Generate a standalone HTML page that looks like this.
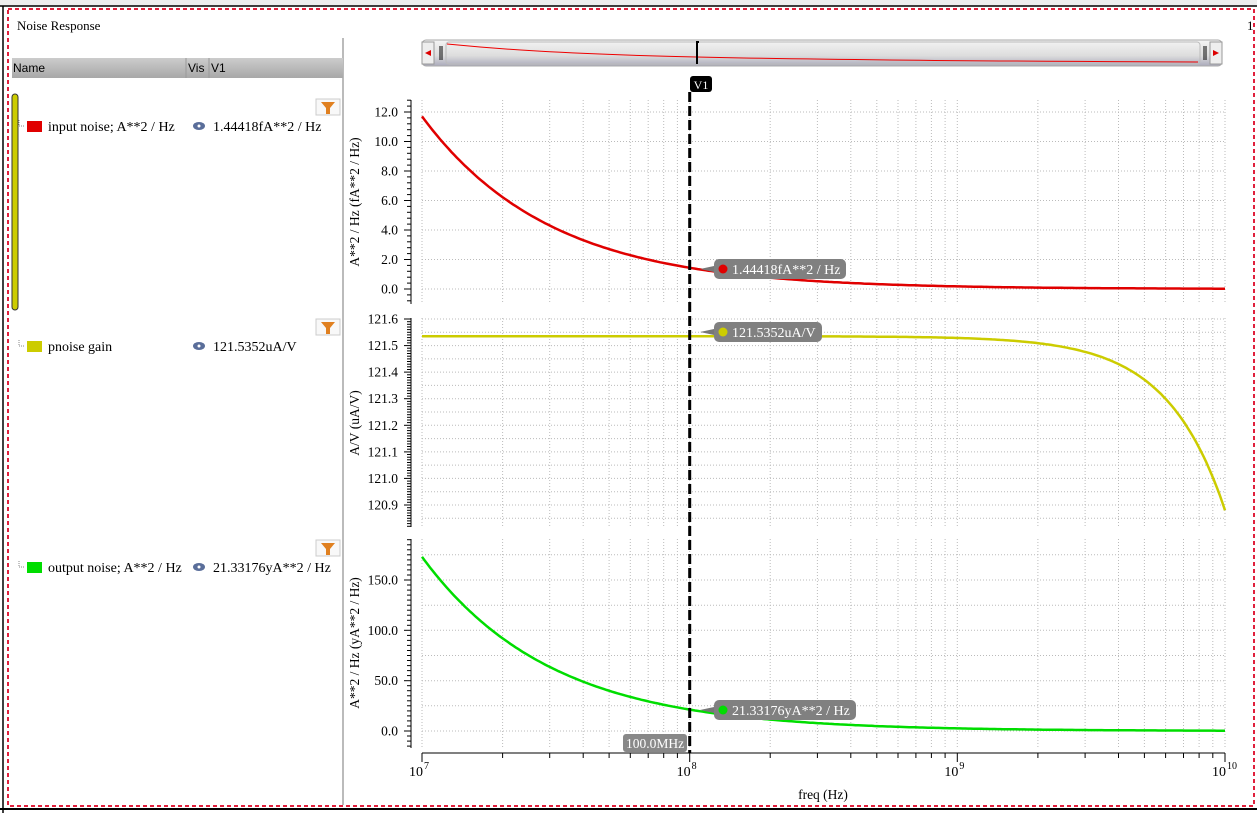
<!DOCTYPE html><html><head><style>
body{margin:0;width:1257px;height:813px;overflow:hidden;background:#fff;font-family:"Liberation Serif",serif;}
</style></head><body>
<svg id="s" width="1257" height="813" xmlns="http://www.w3.org/2000/svg" font-family="Liberation Serif, serif">
<rect x="0" y="0" width="1257" height="813" fill="#fff"/>
<rect x="0" y="0" width="1257" height="6" fill="#eee"/>
<line x1="0" y1="6" x2="1257" y2="6" stroke="#000" stroke-width="1.5"/>
<line x1="0" y1="809" x2="1257" y2="809" stroke="#000" stroke-width="2"/>
<line x1="3" y1="6" x2="3" y2="813" stroke="#000" stroke-width="1.5"/>
<rect x="8" y="9" width="1246" height="797" fill="none" stroke="#e0203c" stroke-width="2" stroke-dasharray="4,3"/>
<text x="17" y="30" font-size="13">Noise Response</text>
<text x="1247" y="30" font-size="13">1</text>
<line x1="343" y1="38" x2="343" y2="805" stroke="#bbb" stroke-width="2"/>
<defs><linearGradient id="hg" x1="0" y1="0" x2="0" y2="1"><stop offset="0" stop-color="#ccc"/><stop offset="1" stop-color="#a8a8a8"/></linearGradient>
<linearGradient id="sg" x1="0" y1="0" x2="0" y2="1"><stop offset="0" stop-color="#f4f4f4"/><stop offset="0.6" stop-color="#ddd"/><stop offset="1" stop-color="#aab"/></linearGradient></defs>
<rect x="12" y="58" width="331" height="20" fill="url(#hg)"/>
<line x1="186" y1="58" x2="186" y2="78" stroke="#999"/><line x1="209" y1="58" x2="209" y2="78" stroke="#999"/>
<text x="13" y="72" font-size="12" font-family="Liberation Sans, sans-serif">Name</text>
<text x="188" y="72" font-size="12" font-family="Liberation Sans, sans-serif">Vis</text>
<text x="211" y="72" font-size="12" font-family="Liberation Sans, sans-serif">V1</text>
<rect x="12" y="94" width="6" height="216" rx="3" fill="#cccc00" stroke="#333"/>
<g font-size="14">
<rect x="27" y="121" width="15" height="11" fill="#e00000"/><text x="48" y="131">input noise; A**2 / Hz</text>
<text x="213" y="131">1.44418fA**2 / Hz</text>
<rect x="27" y="341" width="15" height="11" fill="#cccc00"/><text x="48" y="351">pnoise gain</text>
<text x="213" y="351">121.5352uA/V</text>
<rect x="27" y="562" width="15" height="11" fill="#00dd00"/><text x="48" y="572">output noise; A**2 / Hz</text>
<text x="213" y="572">21.33176yA**2 / Hz</text>
</g>
<g fill="#5a6e9a"><ellipse cx="199" cy="126" rx="6" ry="4"/><ellipse cx="199" cy="346" rx="6" ry="4"/><ellipse cx="199" cy="567" rx="6" ry="4"/></g>
<g fill="#fff"><circle cx="199" cy="126" r="1.5"/><circle cx="199" cy="346" r="1.5"/><circle cx="199" cy="567" r="1.5"/></g>
<g stroke="#888" fill="none" stroke-dasharray="1,1"><path d="M19 126h6M19 120v6"/><path d="M19 346h6M19 340v6"/><path d="M19 567h6M19 561v6"/></g>
<rect x="422" y="40" width="800" height="26" rx="4" fill="url(#sg)" stroke="#aaa"/>
<rect x="422" y="42" width="12" height="22" fill="#eee" stroke="#999"/><path d="M425 53l6-3v6z" fill="#d00"/>
<rect x="1210" y="42" width="12" height="22" fill="#eee" stroke="#999"/><path d="M1219 53l-6-3v6z" fill="#d00"/>
<rect x="446" y="42" width="754" height="22" rx="3" fill="none" stroke="#bbb"/>
<path d="M440 46v14M442 46v14M1204 46v14M1206 46v14" stroke="#000"/>
<path d="M447 44 C560 55 680 60 1198 62" stroke="#e00" fill="none"/>
<path d="M697 64V42h2" stroke="#000" stroke-width="2" fill="none"/>
<g id="plot"></g>
</svg>
<script>
const s=document.getElementById('plot');let h='';
const X=f=>422+(Math.log10(f)-7)*267.67;
[107,327,548].forEach(y=>{h+=`<rect x="316" y="${y-8}" width="24" height="16" fill="#f8f8f8" stroke="#ccc"/><path d="M321 ${y-5}h14l-5 6v6h-4v-6z" fill="#e08020"/>`;});
const panels=[[100,304],[318,527],[539,748]];
let xs=[];for(let d=7;d<10;d++)for(let m=1;m<10;m++)xs.push(m*Math.pow(10,d));xs.push(1e10);
panels.forEach(p=>{xs.forEach(f=>{const x=X(f).toFixed(1);h+=`<line x1="${x}" y1="${p[0]}" x2="${x}" y2="${p[1]}" stroke="#bbb" stroke-dasharray="1,2"/>`;});
h+=`<line x1="411" y1="${p[0]}" x2="411" y2="${p[1]}" stroke="#000"/>`;});
function yax(p,v0,y0,v1,y1,maj,min,fmt){const k=(y1-y0)/(v1-v0);const V=y=>v0+(y-y0)/k;
 let a=V(p[1]),b=V(p[0]);let lo=Math.min(a,b),hi=Math.max(a,b);
 for(let v=Math.ceil(lo/min)*min;v<=hi;v+=min){const y=y0+(v-v0)*k;const isM=Math.abs(v/maj-Math.round(v/maj))<1e-6;
  h+=`<line x1="${isM?404:407}" y1="${y.toFixed(1)}" x2="411" y2="${y.toFixed(1)}" stroke="#000"/>`;
  if(isM){h+=`<line x1="422" y1="${y.toFixed(1)}" x2="1225" y2="${y.toFixed(1)}" stroke="#bbb" stroke-dasharray="1,2"/>`;h+=`<text x="398" y="${(y+4.5).toFixed(1)}" font-size="13.5" text-anchor="end">${fmt(v)}</text>`;}
  else if(Math.abs(v/(maj/2)-Math.round(v/(maj/2)))<1e-6) h+=`<line x1="422" y1="${y.toFixed(1)}" x2="1225" y2="${y.toFixed(1)}" stroke="#bbb" stroke-dasharray="1,2"/>`;}
 return v=>y0+(v-v0)*k;}
const Y1=yax(panels[0],0,289,12,112,2,0.4,v=>v.toFixed(1));
const Y2=yax(panels[1],120.9,505,121.6,319,0.1,0.01,v=>v.toFixed(1));
const Y3=yax(panels[2],0,731,150,580,50,5,v=>v.toFixed(1));
function curve(fn,Y,c){let d='';for(let i=0;i<=300;i++){const l=7+3*i/300,f=Math.pow(10,l);d+=(i?'L':'M')+X(f).toFixed(1)+' '+Y(fn(f)).toFixed(1);}h+=`<path d="${d}" stroke="${c}" stroke-width="2.5" fill="none"/>`;}
curve(f=>11.7*Math.pow(f/1e7,-0.91),Y1,'#e00000');
curve(f=>121.5352-0.655*Math.pow(f/1e10,2),Y2,'#cccc00');
curve(f=>173*Math.pow(f/1e7,-0.91),Y3,'#00dd00');
[[202,'A**2 / Hz (fA**2 / Hz)'],[423,'A/V (uA/V)'],[643,'A**2 / Hz (yA**2 / Hz)']].forEach(([y,t])=>h+=`<text transform="translate(359 ${y}) rotate(-90)" font-size="13.5" text-anchor="middle">${t}</text>`);
h+=`<line x1="422" y1="753" x2="1225" y2="753" stroke="#000"/>`;
xs.forEach(f=>{const x=X(f);const m=Math.abs(Math.log10(f)%1)<1e-6;h+=`<line x1="${x.toFixed(1)}" y1="753" x2="${x.toFixed(1)}" y2="${m?762:758}" stroke="#000"/>`;});
[7,8,9,10].forEach(e=>{const x=X(Math.pow(10,e));h+=`<text x="${x-6}" y="776" font-size="14" text-anchor="middle">10</text><text x="${x+2}" y="769" font-size="10">${e}</text>`;});
h+=`<text x="823" y="799" font-size="13.5" text-anchor="middle">freq (Hz)</text>`;
h+=`<line x1="689.7" y1="92" x2="689.7" y2="753" stroke="#000" stroke-width="3" stroke-dasharray="10,4"/>`;
h+=`<rect x="690" y="76" width="22" height="16" rx="3" fill="#000"/><text x="701" y="89" fill="#fff" font-size="12" text-anchor="middle">V1</text>`;
h+=`<rect x="623" y="734" width="64" height="18" rx="3" fill="#888"/><text x="655" y="748" fill="#fff" font-size="13.5" text-anchor="middle">100.0MHz</text>`;
function tag(x,y,w,t,c){h+=`<path d="M${x} ${y-3}L700 ${y}L${x} ${y+3}z" fill="#777"/><rect x="${x}" y="${y-10}" width="${w}" height="20" rx="5" fill="#808080"/><circle cx="${x+9}" cy="${y}" r="4.5" fill="${c}"/><text x="${x+18}" y="${y+5}" fill="#fff" font-size="14">${t}</text>`;}
tag(714,269,132,'1.44418fA**2 / Hz','#e00000');
tag(714,332,108,'121.5352uA/V','#cccc00');
tag(714,710,142,'21.33176yA**2 / Hz','#00dd00');
s.innerHTML=h;
</script>
</body></html>
